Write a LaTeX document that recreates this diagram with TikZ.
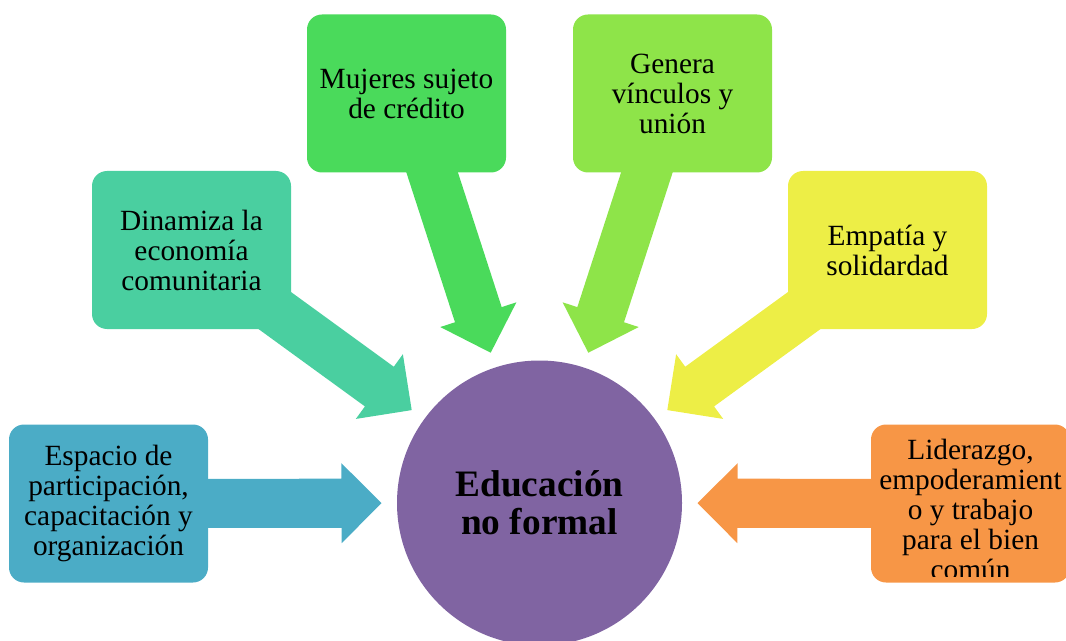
\documentclass[tikz,border=0pt]{standalone}
\usepackage{fontspec}
\setmainfont{Liberation Serif}
\usetikzlibrary{calc}
\usetikzlibrary{backgrounds}
\definecolor{azul}{RGB}{75,172,198}
\definecolor{turquesa}{RGB}{74,207,160}
\definecolor{verde}{RGB}{74,218,91}
\definecolor{lima}{RGB}{142,228,73}
\definecolor{amarillo}{RGB}{237,238,70}
\definecolor{naranja}{RGB}{247,150,70}
\definecolor{morado}{RGB}{128,100,162}
\tikzset{
 caja/.style={rounded corners=11.25pt, minimum width=149.25pt, minimum height=118.5pt, inner sep=0pt, align=center, font=\fontsize{22}{22.5}\selectfont},
 texto/.style={align=center, font=\fontsize{22}{22.5}\selectfont},
}
\begin{document}
\begin{tikzpicture}[x=.75pt,y=.75pt]
\useasboundingbox (0,0) rectangle (1066,640);
\node[circle, fill=morado, minimum size=213.75pt, inner sep=0pt, align=center, font=\bfseries\fontsize{28}{28.5}\selectfont] (edu) at (539.5,137) {Educación\\no formal};
\node[caja, fill=azul] (esp) at (108.5,136.5) {Espacio de\\participación,\\capacitación y\\organización};
\node[caja, fill=turquesa] (din) at (191.5,390) {Dinamiza la\\economía\\comunitaria};
\node[caja, fill=verde] (muj) at (406.5,546.5) {Mujeres sujeto\\de crédito};
\node[caja, fill=lima] (gen) at (672.5,546.5) {Genera\\vínculos y\\unión};
\node[caja, fill=amarillo] (emp) at (887.5,390) {Empatía y\\solidardad};
\node[caja, fill=naranja] (lid) at (970.5,136.5) {};
\begin{scope}
\clip (871,64) rectangle (1070,216);
\node[texto] (lidtxt) at (970.5,131) {Liderazgo,\\empoderamient\\o y trabajo\\para el bien\\común};
\end{scope}
\begin{scope}[on background layer]
\foreach \caja/\col in {esp/azul, din/turquesa, muj/verde, gen/lima, emp/amarillo, lid/naranja} {
 \coordinate (punta) at ($(edu)!118.5pt!(\caja)$);
 \coordinate (base) at ($(punta)!30pt!(\caja)$);
 \fill[\col] (punta) -- ($(base)!30pt!90:(\caja)$) -- ($(base)!18.4pt!90:(\caja)$)
  -- ($(\caja)!18.4pt!-90:(punta)$) -- ($(\caja)!18.4pt!90:(punta)$)
  -- ($(base)!18.4pt!-90:(\caja)$) -- ($(base)!30pt!-90:(\caja)$) -- cycle;
}
\end{scope}
\end{tikzpicture}
\end{document}
